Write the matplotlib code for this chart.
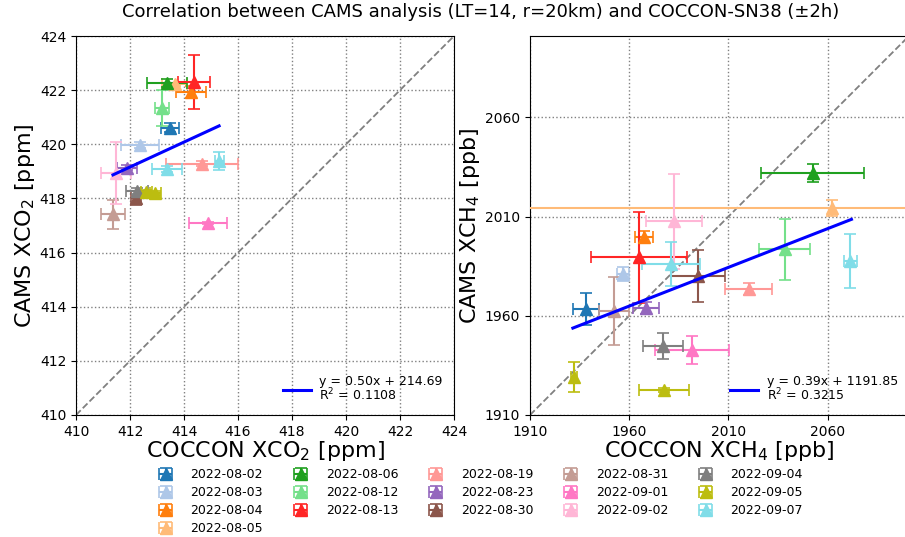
import numpy as np
import matplotlib
matplotlib.use('Agg')
import matplotlib.pyplot as plt

# Fechas (una entrada de leyenda por dia)
dates = ['2022-08-02', '2022-08-03', '2022-08-04', '2022-08-05', '2022-08-06',
         '2022-08-12', '2022-08-13', '2022-08-19', '2022-08-23', '2022-08-30',
         '2022-08-31', '2022-09-01', '2022-09-02', '2022-09-04', '2022-09-05',
         '2022-09-07']
colors = ['#1f77b4', '#aec7e8', '#ff7f0e', '#ffbb78', '#1fa01f', '#74e08a',
          '#ff2525', '#ff9896', '#9467bd', '#8c564b', '#c49c94', '#ff77c4',
          '#ffb6d6', '#7f7f7f', '#bcbd10', '#80dde8']

# Puntos (algunos dias tienen dos mediciones)
pt_date = ['2022-08-02', '2022-08-03', '2022-08-04', '2022-08-05', '2022-08-06',
           '2022-08-12', '2022-08-13', '2022-08-19', '2022-08-23', '2022-08-30',
           '2022-08-31', '2022-09-01', '2022-09-02', '2022-09-04', '2022-09-05',
           '2022-09-05', '2022-09-07', '2022-09-07']

# XCO2 [ppm]
co2_x = [413.48, 412.37, 414.26, 413.65, 413.37, 413.19, 414.37, 414.67, 411.89, 412.22,
         411.37, 414.89, 411.48, 412.26, 412.6, 412.93, 413.37, 415.30]
co2_xerr = [0.35, 0.72, 0.54, 0.45, 0.74, 0.25, 0.59, 1.33, 0.36, 0.2,
            0.43, 0.70, 0.54, 0.40, 0.2, 0.2, 0.54, 0.17]
co2_y = [420.62, 419.98, 421.93, 422.22, 422.28, 421.34, 422.30, 419.29, 419.14, 418.02,
         417.42, 417.09, 418.94, 418.27, 418.22, 418.20, 419.09, 419.37]
co2_yerr = [0.15, 0.12, 0.22, 0.06, 0.15, 0.66, 1.0, 0.1, 0.1, 0.26,
            0.54, 0.05, 1.13, 0.12, 0.08, 0.08, 0.1, 0.33]
co2_fit_x = [411.37, 415.30]
co2_fit_y = [418.87, 420.68]
co2_label = 'y = 0.50x + 214.69\nR$^2$ = 0.1108'

# XCH4 [ppb]
ch4_x = [1938.2, 1956.8, 1967.4, 2062.0, 2052.4, 2038.3, 1964.9, 2020.2, 1968.4, 1994.5,
         1952.3, 1991.5, 1982.5, 1976.9, 1932.1, 1977.4, 1981.0, 2071.5]
ch4_xerr = [6.5, 3.0, 4.5, 300.0, 26.0, 13.0, 24.0, 11.7, 6.7, 13.6,
            7.5, 18.6, 14.0, 10.0, 1.5, 12.7, 14.7, 3.5]
ch4_y = [1963.3, 1981.0, 1999.6, 2014.2, 2031.8, 1993.5, 1989.5, 1973.4, 1963.8, 1980.0,
         1962.3, 1942.7, 2007.6, 1944.7, 1929.1, 1922.6, 1986.0, 1987.5]
ch4_yerr = [8.0, 3.4, 3.0, 4.0, 4.5, 15.4, 23.0, 3.0, 3.0, 13.0,
            17.0, 6.9, 24.0, 6.5, 7.6, 1.2, 11.0, 13.6]
ch4_fit_x = [1931.6, 2072.0]
ch4_fit_y = [1953.8, 2008.6]
ch4_label = 'y = 0.39x + 1191.85\nR$^2$ = 0.3215'

fig = plt.figure(figsize=(9.05, 5.37), dpi=100)
ax1 = fig.add_axes([76/905, 122/537, 378/905, 379/537])
ax2 = fig.add_axes([530/905, 122/537, 379/905, 379/537])

paneles = [
    (ax1, co2_x, co2_xerr, co2_y, co2_yerr, co2_fit_x, co2_fit_y, co2_label,
     (410, 424), np.arange(410, 425, 2), 'COCCON XCO$_2$ [ppm]', 'CAMS XCO$_2$ [ppm]'),
    (ax2, ch4_x, ch4_xerr, ch4_y, ch4_yerr, ch4_fit_x, ch4_fit_y, ch4_label,
     (1910, 2101), np.arange(1910, 2101, 50), 'COCCON XCH$_4$ [ppb]', 'CAMS XCH$_4$ [ppb]'),
]

handles = {}
for ax, x, xe, y, ye, fx, fy, lab, lim, ticks, xl, yl in paneles:
    ax.plot(lim, lim, '--', color='gray', lw=1.3, zorder=1)
    for i, d in enumerate(pt_date):
        c = colors[dates.index(d)]
        h = ax.errorbar(x[i], y[i], xerr=xe[i], yerr=ye[i], fmt='^', color=c,
                        ms=9, elinewidth=1.5, capsize=4, capthick=1.2, zorder=3)
        handles.setdefault(d, h)
    fit, = ax.plot(fx, fy, '-', color='blue', lw=2.2, zorder=4, label=lab)
    leg = ax.legend(handles=[fit], loc='lower right', frameon=False, fontsize=9,
                    handlelength=2.2, handletextpad=0.7, borderaxespad=0.5)
    leg.get_texts()[0].set_linespacing(0.95)
    ax.set_xlim(lim)
    ax.set_ylim(lim)
    ax.set_xticks(ticks)
    ax.set_yticks(ticks)
    ax.tick_params(labelsize=10)
    ax.grid(True, ls=':', color='gray', lw=1)
    ax.set_xlabel(xl, fontsize=16, labelpad=0)
    ax.set_ylabel(yl, fontsize=16, labelpad=2)

fig.suptitle('Correlation between CAMS analysis (LT=14, r=20km) and COCCON-SN38 (\u00b12h)',
             x=481/905, y=0.995, fontsize=13)

fig.legend([handles[d] for d in dates], dates, loc='upper center',
           bbox_to_anchor=(478/905, 80/537), ncol=5, frameon=False,
           fontsize=9, handlelength=2.0, handletextpad=1.0, columnspacing=2.0,
           labelspacing=0.4)

plt.savefig('out.png', dpi=100)
